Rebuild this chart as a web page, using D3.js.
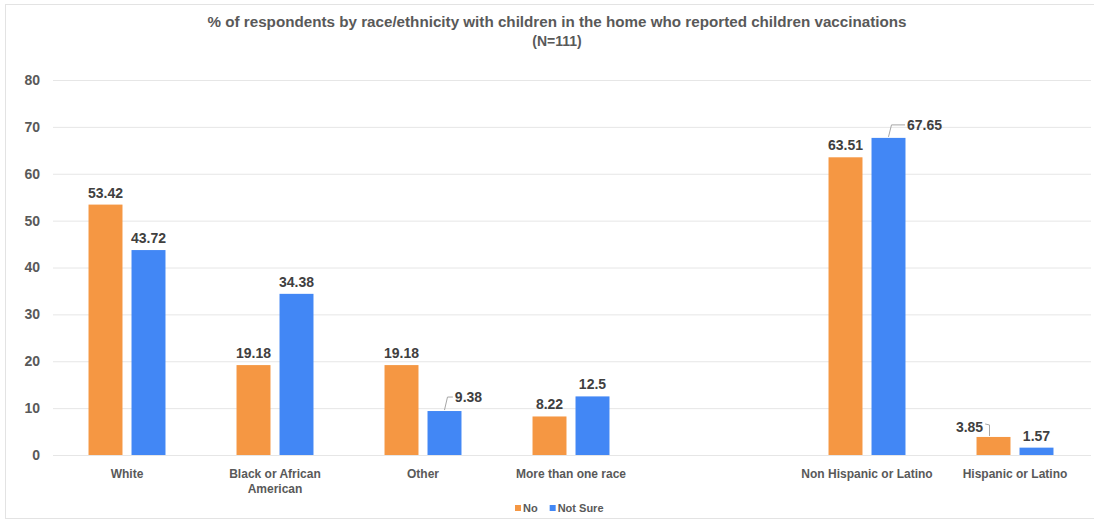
<!DOCTYPE html>
<html>
<head>
<meta charset="utf-8">
<script src="https://cdn.jsdelivr.net/npm/d3@7"></script>
<style>
  body { margin: 0; background: #fff; }
  svg { font-family: "Liberation Sans", Arial, sans-serif; }
</style>
</head>
<body>
<script>
// donnees
const categories = ["White", "Black or African American", "Other", "More than one race", "", "Non Hispanic or Latino", "Hispanic or Latino"];
const seriesNames = ["No", "Not Sure"];
const noValues = [53.42, 19.18, 19.18, 8.22, null, 63.51, 3.85];
const notSureValues = [43.72, 34.38, 9.38, 12.5, null, 67.65, 1.57];
const yTicks = [0, 10, 20, 30, 40, 50, 60, 70, 80];
const titleLines = ["% of respondents by race/ethnicity with children in the home who reported children vaccinations", "(N=111)"];

const couleurs = {"No": "#F59743", "Not Sure": "#4287F5"};

// etiquettes deplacees avec un trait de rappel
const decalages = {
    "Other|Not Sure": {dx: 24, dy: -2},
    "Non Hispanic or Latino|Not Sure": {dx: 36, dy: -1},
    "Hispanic or Latino|No": {dx: -24, dy: 2}
};

const largeur = 1094, hauteur = 522;
const marges = {top: 80, right: 5, bottom: 67, left: 53};

const svg = d3.select("body").append("svg")
    .attr("width", largeur)
    .attr("height", hauteur);

// cadre
svg.append("rect")
    .attr("x", 5.5).attr("y", 4.5)
    .attr("width", largeur - 4).attr("height", hauteur - 8)
    .attr("fill", "none")
    .attr("stroke", "#e3e3e3");

// titre
svg.append("text")
    .attr("x", 557)
    .attr("y", 27)
    .attr("text-anchor", "middle")
    .attr("fill", "#595959")
    .attr("font-size", 14)
    .attr("font-weight", "bold")
    .selectAll("tspan").data(titleLines).enter()
    .append("tspan")
    .attr("x", 557)
    .attr("dy", (d, i) => i === 0 ? 0 : 19)
    .attr("textLength", (d, i) => i === 0 ? 699 : null)
    .attr("lengthAdjust", "spacingAndGlyphs")
    .text(d => d);

const x0 = d3.scaleBand()
    .domain(categories)
    .range([marges.left, 1089])
    .paddingInner(0.48)
    .paddingOuter(0.24);

const x1 = d3.scaleBand()
    .domain(seriesNames)
    .range([0, x0.bandwidth()])
    .paddingInner(0.21);

const y = d3.scaleLinear()
    .domain([0, 80])
    .range([455, 80]);

// grille et axe Y
const axeY = svg.append("g")
    .attr("transform", "translate(" + marges.left + ",0)")
    .call(d3.axisLeft(y).tickValues(yTicks).tickSize(-(1091 - marges.left)).tickPadding(13));
axeY.select(".domain").remove();
axeY.selectAll("line").attr("stroke", "#e6e6e6");
axeY.selectAll("text")
    .attr("fill", "#595959")
    .attr("font-size", 14)
    .attr("font-weight", "bold")
    .attr("font-family", "Liberation Sans, Arial, sans-serif");

// axe X (texte seulement)
const axeX = svg.append("g")
    .attr("transform", "translate(0,455)")
    .call(d3.axisBottom(x0).tickSize(0).tickPadding(14));
axeX.select(".domain").remove();
axeX.selectAll("text")
    .attr("fill", "#595959")
    .attr("font-size", 12)
    .attr("font-weight", "bold")
    .attr("font-family", "Liberation Sans, Arial, sans-serif")
    .call(wrap, 135);

function wrap(textes, w) {
    textes.each(function() {
        const t = d3.select(this);
        const mots = t.text().split(/\s+/).reverse();
        const yy = t.attr("y"), dy = parseFloat(t.attr("dy"));
        let ligne = [], n = 0, mot;
        let tspan = t.text(null).append("tspan").attr("x", 0).attr("y", yy).attr("dy", dy + "em");
        while ((mot = mots.pop())) {
            ligne.push(mot);
            tspan.text(ligne.join(" "));
            if (tspan.node().getComputedTextLength() > w && ligne.length > 1) {
                ligne.pop();
                tspan.text(ligne.join(" "));
                ligne = [mot];
                tspan = t.append("tspan").attr("x", 0).attr("y", yy)
                    .attr("dy", (++n * 1.25 + dy) + "em").text(mot);
            }
        }
    });
}

// tableau des barres
const data = [];
categories.forEach(function(c, i) {
    if (noValues[i] != null) data.push({cat: c, serie: "No", val: noValues[i]});
    if (notSureValues[i] != null) data.push({cat: c, serie: "Not Sure", val: notSureValues[i]});
});

svg.append("g").selectAll("rect").data(data).enter()
    .append("rect")
    .attr("x", d => x0(d.cat) + x1(d.serie))
    .attr("y", d => y(d.val))
    .attr("width", x1.bandwidth())
    .attr("height", d => y(0) - y(d.val))
    .attr("fill", d => couleurs[d.serie]);

// etiquettes de valeur
const etiquettes = svg.append("g");
data.forEach(function(d) {
    const bx = x0(d.cat) + x1(d.serie) + x1.bandwidth() / 2;
    const top = y(d.val);
    const dec = decalages[d.cat + "|" + d.serie] || {dx: 0, dy: 0};
    const tx = bx + dec.dx, ty = top - 7 + dec.dy;
    const t = etiquettes.append("text")
        .attr("x", tx).attr("y", ty)
        .attr("text-anchor", "middle")
        .attr("fill", "#404040")
        .attr("font-size", 14)
        .attr("font-weight", "bold")
        .text(d.val);
    if (dec.dx !== 0) {
        const lw = t.node().getComputedTextLength();
        const mid = ty - 5;
        let chemin;
        if (dec.dx > 0) {
            const gauche = tx - lw / 2 - 2;
            chemin = "M" + bx + "," + (top - 1) + "L" + (bx + 3) + "," + mid + "L" + gauche + "," + mid;
        } else {
            const droite = tx + lw / 2 + 2;
            chemin = "M" + droite + "," + (mid - 3) + "L" + (bx - 4) + "," + (mid - 2) + "L" + (bx - 4) + "," + (top - 1);
        }
        etiquettes.append("path")
            .attr("d", chemin)
            .attr("fill", "none")
            .attr("stroke", "#a6a6a6")
            .attr("stroke-width", 1);
    }
});

// legende
const legende = svg.append("g").attr("transform", "translate(515,508)");
let posX = 0;
seriesNames.forEach(function(s) {
    legende.append("rect")
        .attr("x", posX).attr("y", -3)
        .attr("width", 6).attr("height", 6)
        .attr("fill", couleurs[s]);
    const t = legende.append("text")
        .attr("x", posX + 8).attr("y", 4)
        .attr("fill", "#595959")
        .attr("font-size", 11)
        .attr("font-weight", "bold")
        .text(s);
    posX += 8 + t.node().getComputedTextLength() + 12;
});
</script>
</body>
</html>
